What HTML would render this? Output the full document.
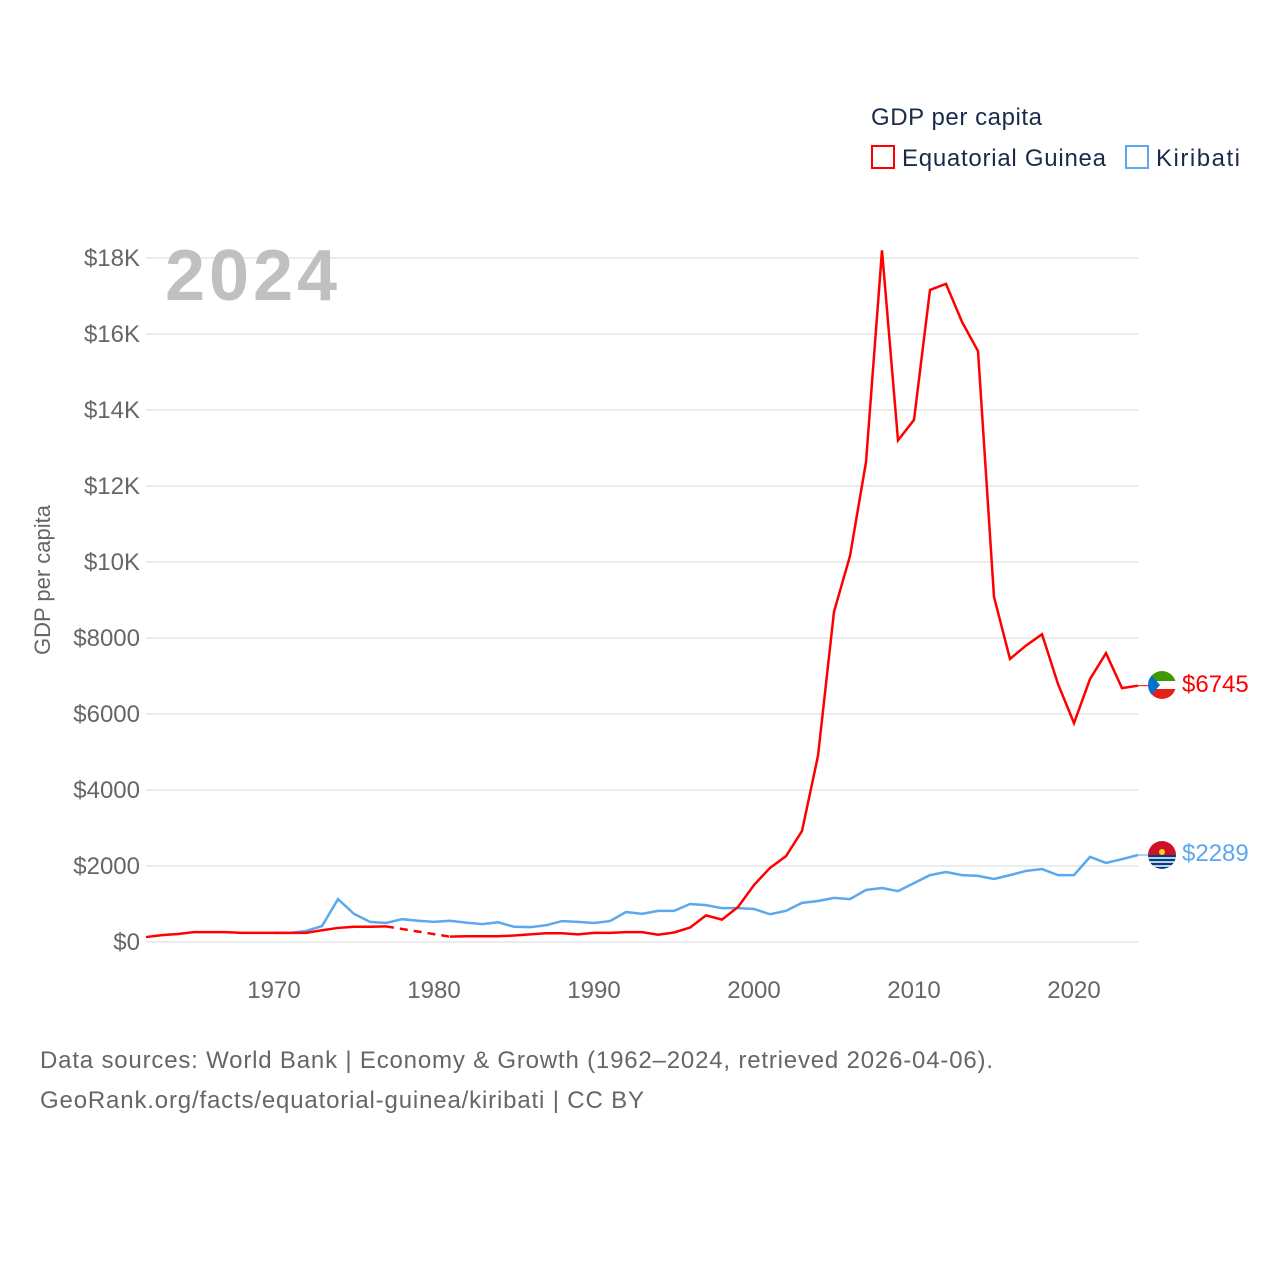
<!DOCTYPE html>
<html><head><meta charset="utf-8">
<style>
body{margin:0;background:#fff;font-family:"Liberation Sans",sans-serif;}
svg text{font-family:"Liberation Sans",sans-serif;}
</style></head>
<body>
<svg id="chart" width="1280" height="1280" viewBox="0 0 1280 1280" xmlns="http://www.w3.org/2000/svg">
<rect width="1280" height="1280" fill="#fff"/>
<text x="871" y="125" font-size="24" fill="#1a2b4a" textLength="171">GDP per capita</text>
<g>
<rect x="872" y="146" width="22" height="22" fill="none" stroke="#ff0000" stroke-width="2"/>
<text x="902" y="166" font-size="24" fill="#1a2b4a" textLength="204">Equatorial Guinea</text></g>
<g>
<rect x="1126" y="146" width="22" height="22" fill="none" stroke="#5ba8ee" stroke-width="2"/>
<text x="1156" y="166" font-size="24" fill="#1a2b4a" textLength="84">Kiribati</text></g>
<g id="grid"></g>
<text x="165" y="300" font-size="72" font-weight="bold" fill="#c0c0c0" textLength="172">2024</text>
<text transform="translate(50,580) rotate(-90)" text-anchor="middle" font-size="22" fill="#666">GDP per capita</text>
<g id="series"></g>
<g>
<clipPath id="c1"><circle cx="1162" cy="685" r="14"/></clipPath>
<g clip-path="url(#c1)"><rect x="1148" y="671" width="28" height="10" fill="#3e9a00"/><rect x="1148" y="681" width="28" height="8" fill="#fff"/><rect x="1148" y="689" width="28" height="10" fill="#e32118"/><polygon points="1148,671 1160,685 1148,699" fill="#0073ce"/></g></g>
<g>
<clipPath id="c2"><circle cx="1162" cy="855" r="14"/></clipPath>
<g clip-path="url(#c2)"><rect x="1148" y="841" width="28" height="14" fill="#ce1126"/><rect x="1148" y="855" width="28" height="14" fill="#003f87"/><path d="M1148 858h28M1148 862h28M1148 866h28" stroke="#fff" stroke-width="1.5"/><circle cx="1162" cy="852" r="3" fill="#fcd116"/></g></g>
<text x="1182" y="692" font-size="24" fill="#ff0000">$6745</text>
<text x="1182" y="861" font-size="24" fill="#5ba8ee">$2289</text>
<text x="40" y="1068" font-size="24" fill="#666" textLength="953">Data sources: World Bank | Economy &amp; Growth (1962–2024, retrieved 2026-04-06).</text>
<text x="40" y="1108" font-size="24" fill="#666" textLength="604">GeoRank.org/facts/equatorial-guinea/kiribati | CC BY</text>
</svg>
<script>
const yTicks=[0,2000,4000,6000,8000,10000,12000,14000,16000,18000];
const yTickLabels=["$0","$2000","$4000","$6000","$8000","$10K","$12K","$14K","$16K","$18K"];
const xTicks=[1970,1980,1990,2000,2010,2020];
const eqgYears=[1962,1963,1964,1965,1966,1967,1968,1969,1970,1971,1972,1973,1974,1975,1976,1977,1981,1982,1983,1984,1985,1986,1987,1988,1989,1990,1991,1992,1993,1994,1995,1996,1997,1998,1999,2000,2001,2002,2003,2004,2005,2006,2007,2008,2009,2010,2011,2012,2013,2014,2015,2016,2017,2018,2019,2020,2021,2022,2023,2024];
const eqgValues=[130,180,210,260,260,260,240,240,240,240,240,310,370,400,400,410,140,150,150,150,170,200,230,230,200,240,240,260,260,190,250,380,700,590,920,1500,1950,2260,2920,4900,8690,10160,12630,18200,13200,13740,17160,17320,16320,15550,9080,7450,7800,8100,6790,5760,6920,7600,6680,6745];
const kirYears=[1970,1971,1972,1973,1974,1975,1976,1977,1978,1979,1980,1981,1982,1983,1984,1985,1986,1987,1988,1989,1990,1991,1992,1993,1994,1995,1996,1997,1998,1999,2000,2001,2002,2003,2004,2005,2006,2007,2008,2009,2010,2011,2012,2013,2014,2015,2016,2017,2018,2019,2020,2021,2022,2023,2024];
const kirValues=[240,240,290,420,1130,740,530,500,600,560,530,560,510,470,520,400,390,440,550,530,500,550,790,740,820,820,1000,970,890,890,870,730,820,1030,1080,1160,1130,1370,1420,1340,1550,1760,1840,1760,1740,1660,1760,1870,1920,1760,1760,2240,2080,2180,2289];
const X=y=>146+(y-1962)*16;
const Y=v=>942-v*0.038;
const NS="http://www.w3.org/2000/svg";
const grid=document.getElementById('grid');
yTicks.forEach((t,i)=>{
 const l=document.createElementNS(NS,'line');
 l.setAttribute('x1',146);l.setAttribute('x2',1138);l.setAttribute('y1',Y(t));l.setAttribute('y2',Y(t));
 l.setAttribute('stroke','#e6e6e6');l.setAttribute('stroke-width','1.5');
 
 
 grid.appendChild(l);
 const tx=document.createElementNS(NS,'text');
 tx.setAttribute('x',140);tx.setAttribute('y',Y(t)+8);tx.setAttribute('text-anchor','end');
 tx.setAttribute('font-size','24');tx.setAttribute('fill','#666');tx.textContent=yTickLabels[i];
 
 
 grid.appendChild(tx);
});
xTicks.forEach(t=>{
 const tx=document.createElementNS(NS,'text');
 tx.setAttribute('x',X(t));tx.setAttribute('y',998);tx.setAttribute('text-anchor','middle');
 tx.setAttribute('font-size','24');tx.setAttribute('fill','#666');tx.textContent=t;
 
 
 grid.appendChild(tx);
});
const ser=document.getElementById('series');
function line(years,vals,color,name){
 let segs=[[]],gaps=[];
 for(let i=0;i<years.length;i++){
  if(i>0&&years[i]-years[i-1]>1){gaps.push([i-1,i]);segs.push([]);}
  segs[segs.length-1].push(X(years[i])+','+Y(vals[i]));
 }
 segs.forEach(s=>{
  const p=document.createElementNS(NS,'polyline');
  p.setAttribute('points',s.join(' '));p.setAttribute('fill','none');p.setAttribute('stroke',color);p.setAttribute('stroke-width','2.5');
  
  
  ser.appendChild(p);
 });
 gaps.forEach(g=>{
  const p=document.createElementNS(NS,'line');
  p.setAttribute('x1',X(years[g[0]]));p.setAttribute('y1',Y(vals[g[0]]));p.setAttribute('x2',X(years[g[1]]));p.setAttribute('y2',Y(vals[g[1]]));
  p.setAttribute('stroke',color);p.setAttribute('stroke-width','2.5');p.setAttribute('stroke-dasharray','8,6');
  
  
  ser.appendChild(p);
 });
 const n=years.length-1;
 const c=document.createElementNS(NS,'line');
 c.setAttribute('x1',X(years[n]));c.setAttribute('y1',Y(vals[n]));c.setAttribute('x2',1150);c.setAttribute('y2',Y(vals[n]));
 c.setAttribute('stroke',color);c.setAttribute('stroke-width','1');
 
 
 ser.appendChild(c);
}
line(kirYears,kirValues,'#5ba8ee','kiribati');
line(eqgYears,eqgValues,'#ff0000','equatorial-guinea');
</script>
</body></html>
